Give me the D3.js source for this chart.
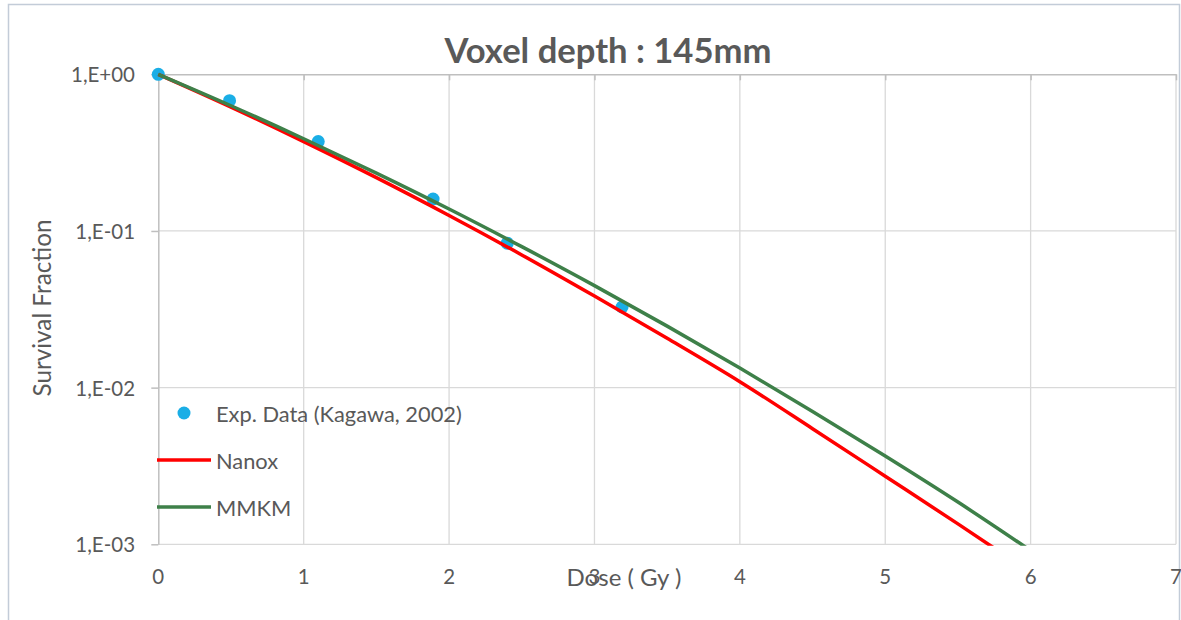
<!DOCTYPE html>
<html>
<head>
<meta charset="utf-8">
<script src="https://cdn.jsdelivr.net/npm/d3@7"></script>
<style>
  html, body { margin: 0; padding: 0; background: #fff; }
  svg { display: block; }
  text { font-family: "Lato", "Open Sans", "Liberation Sans", sans-serif; fill: #595959; }
</style>
</head>
<body>
<svg id="chart" width="1181" height="620"></svg>
<script>
// Experimental survival data (Kagawa, 2002)
const expDose = [0, 0.49, 1.10, 1.89, 2.40, 3.19];
const expSF   = [1, 0.679, 0.372, 0.160, 0.0836, 0.0327];

// Nanox model curve
const nanoxDose = [0, 0.5, 1, 1.5, 2, 2.5, 3, 3.5, 4, 4.5, 5, 5.5, 6];
const nanoxSF   = [1, 0.618, 0.372, 0.219, 0.1256, 0.0703, 0.0384, 0.02065, 0.01091, 0.00547, 0.00272, 0.00135, 0.000661];

// MMKM model curve
const mmkmDose = [0, 0.5, 1, 1.5, 2, 2.5, 3, 3.5, 4, 4.5, 5, 5.5, 6];
const mmkmSF   = [1, 0.630, 0.388, 0.234, 0.138, 0.0794, 0.0448, 0.0247, 0.01334, 0.00705, 0.00366, 0.00186, 0.000912];

// Axis ticks
const xTicks = [0, 1, 2, 3, 4, 5, 6, 7];
const yTicks = [1, 0.1, 0.01, 0.001];
const yTickLabels = ["1,E+00", "1,E-01", "1,E-02", "1,E-03"];

const seriesNames = ["Exp. Data (Kagawa, 2002)", "Nanox", "MMKM"];
const colors = { exp: "#1aaee6", nanox: "#ff0000", mmkm: "#3e8049" };

const svg = d3.select("#chart");

// scale a text element's font size so that it spans the given width
function fitWidth(sel, width) {
  sel.each(function () {
    const el = d3.select(this);
    const fs = parseFloat(el.attr("font-size"));
    const w = this.getComputedTextLength();
    if (w > 0) el.attr("font-size", (fs * width / w).toFixed(2));
  });
  return sel;
}

// chart frame
svg.append("rect")
  .attr("x", 8.5).attr("y", 4.5)
  .attr("width", 1171).attr("height", 700)
  .attr("fill", "#fff").attr("stroke", "#c3ccd8").attr("stroke-width", 1.5);

const plot = { left: 158.3, right: 1176, top: 74.3, bottom: 544.3 };

const x = d3.scaleLinear().domain([0, 7]).range([plot.left, plot.right]);
const y = d3.scaleLog().domain([0.001, 1]).range([plot.bottom, plot.top]);

svg.append("defs").append("clipPath").attr("id", "plot-clip")
  .append("rect")
  .attr("x", plot.left - 10).attr("y", plot.top - 10)
  .attr("width", plot.right - plot.left + 20)
  .attr("height", plot.bottom - plot.top + 11.5);

// gridlines
const grid = svg.append("g").attr("stroke", "#d9d9d9").attr("stroke-width", 1.3);
grid.selectAll("line.v").data(xTicks.slice(1)).join("line")
  .attr("x1", d => x(d)).attr("x2", d => x(d))
  .attr("y1", plot.top).attr("y2", plot.bottom);
grid.selectAll("line.h").data(yTicks.slice(1)).join("line")
  .attr("x1", plot.left).attr("x2", plot.right)
  .attr("y1", d => y(d)).attr("y2", d => y(d));

// x axis crosses at the top (SF = 1), ticks pointing into the plot
const xAxis = svg.append("g")
  .attr("transform", `translate(0,${plot.top})`)
  .call(d3.axisBottom(x).tickValues(xTicks).tickSize(6).tickSizeOuter(0).tickFormat(""));
xAxis.select(".domain").attr("stroke", "#bfbfbf").attr("stroke-width", 1.5);
xAxis.selectAll(".tick line").attr("stroke", "#bfbfbf").attr("stroke-width", 1.5);

// y axis
const yAxis = svg.append("g")
  .attr("transform", `translate(${plot.left},0)`)
  .call(d3.axisLeft(y).tickValues(yTicks).tickSize(7).tickSizeOuter(0).tickFormat(""));
yAxis.select(".domain").attr("stroke", "#bfbfbf").attr("stroke-width", 1.5);
yAxis.selectAll(".tick line").attr("stroke", "#bfbfbf").attr("stroke-width", 1.5);

// y tick labels; their fitted size is shared by all small texts
const yLabels = svg.append("g").selectAll("text").data(yTicks).join("text")
  .attr("x", 135).attr("y", d => y(d))
  .attr("text-anchor", "end").attr("dominant-baseline", "central")
  .attr("font-size", 20).text((d, i) => yTickLabels[i]);
fitWidth(yLabels.filter((d, i) => i === 0), 64);
const labelSize = yLabels.filter((d, i) => i === 0).attr("font-size");
yLabels.attr("font-size", labelSize);

// x tick labels sit low, below the plot
svg.append("g").selectAll("text").data(xTicks).join("text")
  .attr("x", d => x(d)).attr("y", 576)
  .attr("text-anchor", "middle").attr("dominant-baseline", "central")
  .attr("font-size", labelSize).text(d => d);

// experimental points
svg.append("g").selectAll("circle").data(expDose).join("circle")
  .attr("cx", d => x(d)).attr("cy", (d, i) => y(expSF[i]))
  .attr("r", 6.5).attr("fill", colors.exp);

const line = d3.line().x(d => x(d[0])).y(d => y(d[1])).curve(d3.curveMonotoneX);
const curves = svg.append("g").attr("clip-path", "url(#plot-clip)");

curves.append("path")
  .datum(d3.zip(nanoxDose, nanoxSF))
  .attr("d", line).attr("fill", "none")
  .attr("stroke", colors.nanox).attr("stroke-width", 3.5);

curves.append("path")
  .datum(d3.zip(mmkmDose, mmkmSF))
  .attr("d", line).attr("fill", "none")
  .attr("stroke", colors.mmkm).attr("stroke-width", 3.5);

// legend
const legend = svg.append("g");
const legY = [413, 460, 507];
legend.append("circle").attr("cx", 184).attr("cy", legY[0]).attr("r", 6.5).attr("fill", colors.exp);
legend.append("line").attr("x1", 157).attr("x2", 211).attr("y1", legY[1]).attr("y2", legY[1])
  .attr("stroke", colors.nanox).attr("stroke-width", 3.5);
legend.append("line").attr("x1", 157).attr("x2", 211).attr("y1", legY[2]).attr("y2", legY[2])
  .attr("stroke", colors.mmkm).attr("stroke-width", 3.5);
const legText = legend.selectAll("text").data(seriesNames).join("text")
  .attr("x", 216).attr("y", (d, i) => legY[i])
  .attr("dominant-baseline", "central")
  .attr("font-size", 20).text(d => d);
fitWidth(legText.filter((d, i) => i === 0), 246);
legText.attr("font-size", legText.filter((d, i) => i === 0).attr("font-size"));

// title and axis titles
fitWidth(svg.append("text")
  .attr("x", 608).attr("y", 49)
  .attr("text-anchor", "middle").attr("dominant-baseline", "central")
  .attr("font-size", 30).attr("font-weight", "bold")
  .text("Voxel depth : 145mm"), 327);

fitWidth(svg.append("text")
  .attr("transform", "translate(41,308) rotate(-90)")
  .attr("text-anchor", "middle").attr("dominant-baseline", "central")
  .attr("font-size", 20)
  .text("Survival Fraction"), 177);

fitWidth(svg.append("text")
  .attr("x", 624).attr("y", 576)
  .attr("text-anchor", "middle").attr("dominant-baseline", "central")
  .attr("font-size", 20)
  .text("Dose ( Gy )"), 115);
</script>
</body>
</html>
